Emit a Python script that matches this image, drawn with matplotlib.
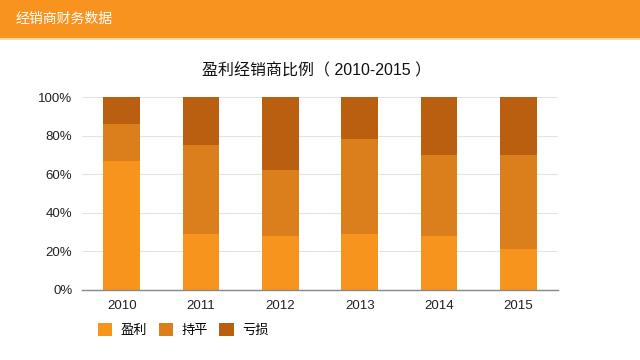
import matplotlib
matplotlib.use("Agg")
import matplotlib.pyplot as plt
from matplotlib.patches import Rectangle

plt.rcParams['font.family'] = ['Liberation Sans', 'Noto Sans CJK SC', 'DejaVu Sans']

years = ['2010', '2011', '2012', '2013', '2014', '2015']
profit = [67, 29, 28, 29, 28, 21]
breakeven = [19, 46, 34, 49, 42, 49]
loss = [14, 25, 38, 22, 30, 30]
series_names = ['盈利', '持平', '亏损']
colors = ['#F7941E', '#DA7F1B', '#BA5E0F']

fig = plt.figure(figsize=(6.4, 3.6), dpi=100)
fig.patch.set_facecolor('white')

# header band
fig.patches.append(Rectangle((0, 1 - 38/360), 1, 38/360, transform=fig.transFigure,
                             facecolor='#F7931E', edgecolor='none', zorder=0))
fig.patches.append(Rectangle((0, 1 - 40/360), 1, 2/360, transform=fig.transFigure,
                             facecolor='#FCD9A8', edgecolor='none', zorder=0))
fig.text(16/640, 1 - 19/360, '经销商财务数据', color='white', fontsize=10,
         va='center', ha='left', family=['Noto Sans CJK SC'])

ax = fig.add_axes([82/640, 1 - 290/360, 476/640, 193/360])
x = list(range(len(years)))
w = 0.46
ax.bar(x, profit, w, color=colors[0], label=series_names[0], zorder=2)
ax.bar(x, breakeven, w, bottom=profit, color=colors[1], label=series_names[1], zorder=2)
bottoms = [a + b for a, b in zip(profit, breakeven)]
ax.bar(x, loss, w, bottom=bottoms, color=colors[2], label=series_names[2], zorder=2)

ax.set_xlim(-0.5, len(years) - 0.5)
ax.set_ylim(0, 100)
ax.set_yticks([0, 20, 40, 60, 80, 100])
ax.set_yticklabels([f'{v}%' for v in [0, 20, 40, 60, 80, 100]], fontsize=9.5, color='#222222')
ax.set_xticks(x)
ax.set_xticklabels(years, fontsize=9.5, color='#222222')
ax.tick_params(length=0, pad=7)
ax.grid(axis='y', color='#E4E4E4', linewidth=0.8, zorder=0)
for s in ['top', 'right', 'left']:
    ax.spines[s].set_visible(False)
ax.spines['bottom'].set_color('#888888')
ax.spines['bottom'].set_linewidth(1)
ax.spines['bottom'].set_zorder(3)

fig.text(317/640, 1 - 71/360, '盈利经销商比例（ 2010-2015 ）', fontsize=11.5, ha='center',
         va='center', color='#111111')

leg = fig.legend(loc='center left', bbox_to_anchor=(86/640, 1 - 330/360), ncol=3,
                 frameon=False, fontsize=9.5, handlelength=1.1, handleheight=1.1,
                 columnspacing=0.9, handletextpad=0.6)

fig.savefig('out.png', dpi=100)
